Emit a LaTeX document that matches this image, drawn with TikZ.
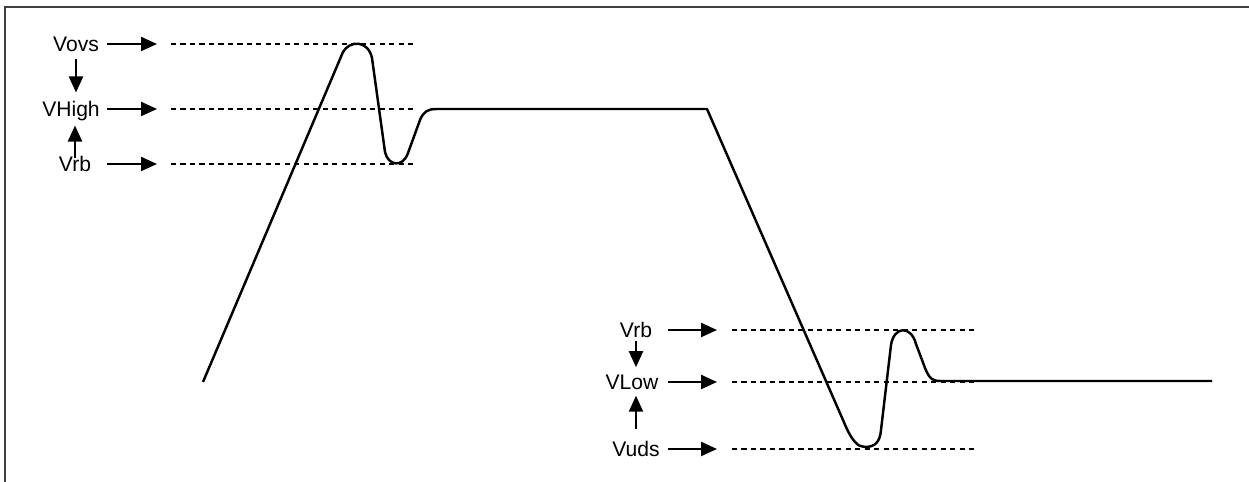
\documentclass[tikz,border=0pt]{standalone}
\usepackage{fontspec}
\setmainfont{Liberation Sans}
\usetikzlibrary{arrows.meta}
\begin{document}
\begin{tikzpicture}[x=0.02cm,y=-0.02cm,
lbl/.style={inner sep=0pt,text height=8.4pt,text depth=0pt,font=\fontsize{12}{14}\selectfont},
arr/.style={line width=1.3pt,-{Triangle[length=3.2mm,width=2.8mm]}},
lvl/.style={line width=1.3pt,dash pattern=on 2.9pt off 2.5pt},
wave/.style={line width=1.4pt,line join=round}]
\useasboundingbox (0,0) rectangle (1249,482);
\draw[line width=1.5pt,black!75] (5,482) -- (5,7) -- (1249,7);
% high side
\node[lbl] (vovs) at (76,44) {Vovs};
\node[lbl] (vhigh) at (71,109) {VHigh};
\node[lbl] (vrbh) at (75,164) {Vrb};
\coordinate (ovs-a) at (107,44);  \coordinate (ovs-b) at (157,44);
\coordinate (high-a) at (107,109); \coordinate (high-b) at (157,109);
\coordinate (rbh-a) at (107,164);  \coordinate (rbh-b) at (157,164);
\draw[arr] (ovs-a) -- (ovs-b);
\draw[arr] (high-a) -- (high-b);
\draw[arr] (rbh-a) -- (rbh-b);
\draw[lvl] (171,44) -- (415,44);
\draw[lvl] (171,109) -- (415,109);
\draw[lvl] (171,164) -- (415,164);
\draw[arr,shorten <=4pt,shorten >=5pt] (vovs.south) -- (vovs.south |- vhigh.north);
\draw[arr,shorten <=-1pt,shorten >=5pt] (vrbh.north) -- (vrbh.north |- vhigh.south);
% low side
\node[lbl] (vrbl) at (636,330) {Vrb};
\node[lbl] (vlow) at (632,382) {VLow};
\node[lbl] (vuds) at (636,449) {Vuds};
\coordinate (rbl-a) at (668,330);  \coordinate (rbl-b) at (717,330);
\coordinate (low-a) at (668,382);  \coordinate (low-b) at (717,382);
\coordinate (uds-a) at (668,449);  \coordinate (uds-b) at (717,449);
\draw[arr] (rbl-a) -- (rbl-b);
\draw[arr] (low-a) -- (low-b);
\draw[arr] (uds-a) -- (uds-b);
\draw[lvl] (732,330) -- (975,330);
\draw[lvl] (732,382) -- (975,382);
\draw[lvl] (732,449) -- (975,449);
\draw[arr,shorten <=1.7pt,shorten >=4pt] (vrbl.south) -- (vrbl.south |- vlow.north);
\draw[arr,shorten <=6.8pt,shorten >=3.4pt] (vuds.north) -- (vuds.north |- vlow.south);
% waveform
\draw[wave] (203,382) -- (343,52) .. controls (350,40) and (368,40) .. (372,58)
  -- (385,152) .. controls (388,166) and (403,168) .. (408,153)
  -- (420,120) .. controls (424,111) and (428,109) .. (437,109)
  -- (707,109) -- (843,420) .. controls (852,442) and (858,447) .. (865,447)
  .. controls (875,447) and (880,442) .. (881,430)
  -- (891,345) .. controls (894,326) and (911,325) .. (916,344)
  -- (925,368) .. controls (930,380) and (933,381) .. (941,381) -- (1212,381);
\end{tikzpicture}
\end{document}
